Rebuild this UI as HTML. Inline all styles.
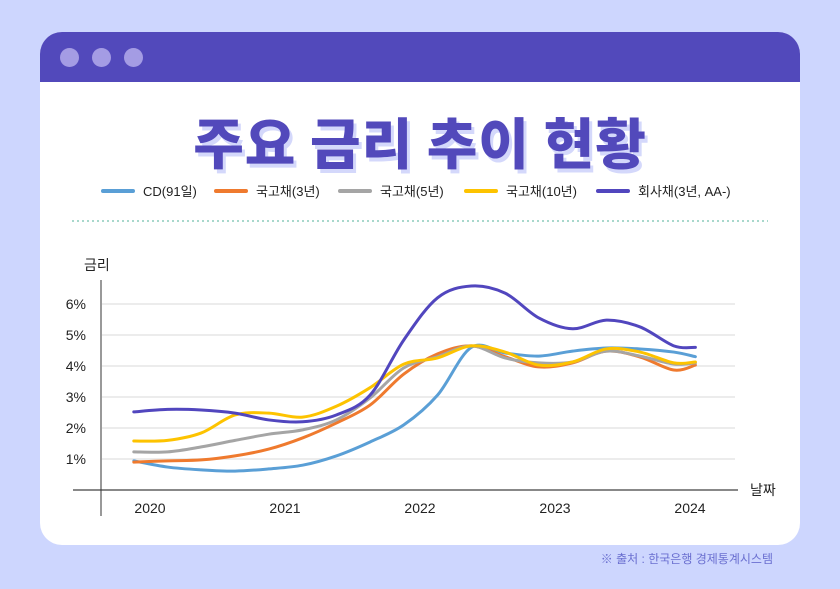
<!DOCTYPE html>
<html><head><meta charset="utf-8"><style>
body{margin:0;width:840px;height:589px;background:#cdd6fe;font-family:"Liberation Sans","Noto Sans CJK KR",sans-serif;position:relative;overflow:hidden}
.card{position:absolute;left:40px;top:32px;width:760px;height:513px;background:#fff;border-radius:22px;overflow:hidden}
.bar{position:absolute;left:0;top:0;width:760px;height:50px;background:#5249bb}
.dot{position:absolute;top:16px;width:19px;height:19px;border-radius:50%;background:#a49ce4}
.title{position:absolute;left:0;width:760px;top:68px;text-align:center;font-size:55px;font-weight:900;color:#5249bb;letter-spacing:1px;text-shadow:3px 4px 0 #d4d8fb;font-family:"Noto Sans CJK KR",sans-serif}
.src{position:absolute;right:67px;top:550px;font-size:12px;color:#6a6fd0}
</style></head><body>
<div class="card">
 <div class="bar">
  <div class="dot" style="left:20px"></div>
  <div class="dot" style="left:52px"></div>
  <div class="dot" style="left:84px"></div>
 </div>
 <div class="title">주요 금리 추이 현황</div>
</div>
<svg id="chart" width="840" height="589" style="position:absolute;left:0;top:0"></svg>
<div class="src">※ 출처 : 한국은행 경제통계시스템</div>
<script>
const ticks=[1,2,3,4,5,6];
const years=[2020,2021,2022,2023,2024];
const names=["CD(91일)","국고채(3년)","국고채(5년)","국고채(10년)","회사채(3년, AA-)"];
const colors=["#5a9fd6","#ef7a2e","#a5a5a5","#fdc300","#5146be"];
const dates=[2019.88,2020.13,2020.38,2020.63,2020.88,2021.13,2021.38,2021.63,2021.88,2022.13,2022.38,2022.63,2022.88,2023.13,2023.38,2023.63,2023.88,2024.04];
const cd=[0.94,0.74,0.65,0.61,0.68,0.8,1.1,1.55,2.1,3.06,4.6,4.42,4.32,4.48,4.58,4.55,4.45,4.3];
const ktb3=[0.9,0.94,0.97,1.1,1.32,1.68,2.16,2.74,3.74,4.39,4.65,4.3,3.97,4.1,4.48,4.29,3.87,4.03];
const ktb5=[1.23,1.23,1.39,1.6,1.8,1.94,2.26,2.97,3.94,4.3,4.65,4.26,4.1,4.13,4.48,4.32,4.06,4.1];
const ktb10=[1.58,1.6,1.84,2.42,2.48,2.35,2.7,3.3,4.06,4.26,4.65,4.45,4.03,4.13,4.55,4.45,4.1,4.13];
const corp=[2.52,2.6,2.58,2.48,2.26,2.2,2.42,3.06,4.84,6.2,6.58,6.35,5.55,5.2,5.48,5.26,4.65,4.6];
const series=[cd,ktb3,ktb5,ktb10,corp];
const X=t=>150+(t-2020)*135, Y=v=>490-31*v;
const svg=document.getElementById('chart');const NS="http://www.w3.org/2000/svg";
function el(tag,a,txt){const e=document.createElementNS(NS,tag);for(const k in a)e.setAttribute(k,a[k]);if(txt!=null)e.textContent=txt;svg.appendChild(e);return e;}
let lx=[103,216,340,466,598];
names.forEach((n,i)=>{
 const g=el('line',{x1:lx[i],x2:lx[i]+30,y1:191,y2:191,stroke:colors[i],'stroke-width':4,'stroke-linecap':'round'});
 
 
 const t=el('text',{x:lx[i]+40,y:196,'font-size':13,fill:'#222'},n);
 
 
});
const sep=el('line',{x1:72,x2:768,y1:221,y2:221,stroke:'#a8d8cc','stroke-width':2,'stroke-dasharray':'2 3'});


ticks.forEach(v=>{
 const g=el('line',{x1:102,x2:735,y1:Y(v),y2:Y(v),stroke:'#ececec','stroke-width':2});
 
 
 const t=el('text',{x:86,y:Y(v)+5,'font-size':14,fill:'#222','text-anchor':'end'},v+'%');
 
 
});
const ax=el('line',{x1:73,x2:738,y1:490,y2:490,stroke:'#888','stroke-width':2});


const ay=el('line',{x1:101,x2:101,y1:280,y2:516,stroke:'#333','stroke-width':1});


years.forEach(y=>{
 const t=el('text',{x:X(y),y:513,'font-size':14,fill:'#222','text-anchor':'middle'},String(y));
 
 
});
const yt=el('text',{x:84,y:270,'font-size':14,fill:'#222'},'금리');


const xt=el('text',{x:750,y:495,'font-size':14,fill:'#222'},'날짜');


function path(vals){
 const p=vals.map((v,i)=>[X(dates[i]),Y(v)]);
 let d='M'+p[0][0]+','+p[0][1];
 for(let i=0;i<p.length-1;i++){
  const a=p[i-1]||p[i],b=p[i],c=p[i+1],e=p[i+2]||c;
  d+=` C${b[0]+(c[0]-a[0])/6},${b[1]+(c[1]-a[1])/6} ${c[0]-(e[0]-b[0])/6},${c[1]-(e[1]-b[1])/6} ${c[0]},${c[1]}`;
 }
 return d;
}
[0,1,2,3,4].forEach(i=>{
 const l=el('path',{d:path(series[i]),fill:'none',stroke:colors[i],'stroke-width':3,'stroke-linecap':'round'});
 
 
});
</script>
</body></html>
